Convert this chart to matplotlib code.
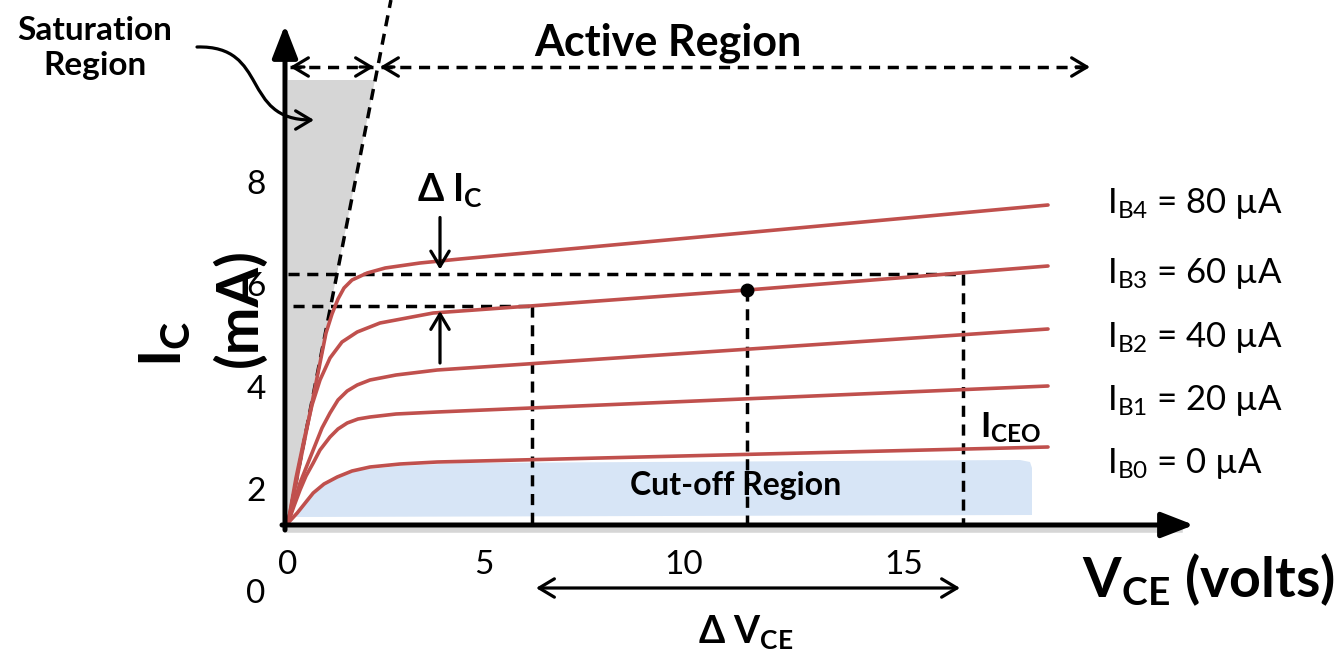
import matplotlib.pyplot as plt
from matplotlib.patches import FancyArrowPatch
from matplotlib.path import Path

# collector characteristics (VCE in volts, IC in mA)
ib4_v = [0, 0.25, 0.5, 0.75, 0.95, 1.1, 1.25, 1.4, 1.6, 1.98, 2.43, 3.3, 4.3, 19.0]
ib4_i = [1.34, 2.34, 3.34, 4.34, 5.14, 5.52, 5.82, 6.04, 6.2, 6.34, 6.44, 6.54, 6.62, 7.70]
ib3_v = [0, 0.2, 0.4, 0.6, 0.8, 1.05, 1.35, 1.73, 2.3, 3.63, 6.05, 11.48, 19.0]
ib3_i = [1.34, 2.24, 3.0, 3.7, 4.2, 4.64, 4.96, 5.16, 5.34, 5.54, 5.68, 6.0, 6.48]
ib2_v = [0, 0.3, 0.63, 0.85, 1.05, 1.25, 1.48, 1.73, 2.05, 2.7, 3.73, 19.0]
ib2_i = [1.34, 2.14, 2.8, 3.24, 3.54, 3.8, 3.98, 4.1, 4.2, 4.3, 4.4, 5.22]
ib1_v = [0, 0.15, 0.3, 0.45, 0.63, 0.8, 1.05, 1.25, 1.48, 1.75, 2.05, 2.7, 3.73, 19.0]
ib1_i = [1.34, 1.68, 2.0, 2.28, 2.54, 2.8, 3.06, 3.22, 3.34, 3.42, 3.46, 3.52, 3.56, 4.08]
ib0_v = [0, 0.23, 0.45, 0.63, 0.9, 1.23, 1.6, 2.05, 2.8, 3.73, 19.0]
ib0_i = [1.34, 1.54, 1.76, 1.94, 2.12, 2.26, 2.38, 2.46, 2.52, 2.56, 2.86]
curves = [(ib4_v, ib4_i), (ib3_v, ib3_i), (ib2_v, ib2_i), (ib1_v, ib1_i), (ib0_v, ib0_i)]

ib_names = ["B4", "B3", "B2", "B1", "B0"]
ib_values = ["80", "60", "40", "20", "0"]
ib_label_i = [7.54, 6.14, 4.86, 3.6, 2.34]

# cut-off region outline
cutoff_v = [0.18, 0.43, 0.75, 1.18, 1.8, 2.8, 4.3, 18.3, 18.55, 18.6, 18.6]
cutoff_i = [1.46, 1.8, 2.06, 2.26, 2.4, 2.48, 2.54, 2.6, 2.56, 2.44, 1.5]

# operating point and delta construction
q_v, q_i = 11.48, 6.0
ic_hi, ic_lo = 6.33, 5.69
v_lo, v_hi = 6.1, 16.88
axis_i = 1.3

xtick_pos = [0, 4.9, 9.9, 15.4]
xtick_labels = ["0", "5", "10", "15"]
ytick_pos = [8.1, 6.06, 4.0, 1.96, -0.08]
ytick_labels = ["8", "6", "4", "2", "0"]

plt.rcParams['font.family'] = ['Lato', 'DejaVu Sans']
plt.rcParams['mathtext.fontset'] = 'custom'
plt.rcParams['mathtext.rm'] = 'Lato'
plt.rcParams['mathtext.bf'] = 'Lato:bold'

red = '#c0504d'
dash = dict(color='black', lw=2.5, linestyle=(0, (3.2, 2.2)))

fig = plt.figure(figsize=(13.42, 6.58), dpi=100)
ax = fig.add_axes([0, 0, 1, 1])
ax.set_xlim(-7.2, 26.35)
ax.set_ylim(-1.36, 11.8)
ax.axis('off')

# saturation region
sat_slope = 0.246  # volts per mA along the saturation boundary
ax.fill([0, 0, sat_slope * (10.2 - 1.34)], [1.34, 10.2, 10.2], color='#d6d6d6', lw=0)
ax.plot([0, sat_slope * (11.8 - 1.34)], [1.34, 11.8], **dash)

# cut-off region
ax.fill(cutoff_v, cutoff_i, color='#d7e5f6', lw=0)

# delta construction lines
ax.plot([0, v_hi], [ic_hi, ic_hi], **dash)
ax.plot([0.12, v_lo], [ic_lo, ic_lo], **dash)
ax.plot([v_lo, v_lo], [ic_lo, axis_i], **dash)
ax.plot([q_v, q_v], [q_i, axis_i], **dash)
ax.plot([v_hi, v_hi], [ic_hi, axis_i], **dash)

for v, i in curves:
    ax.plot(v, i, color=red, lw=2.6, solid_capstyle='round', solid_joinstyle='round')
ax.plot([q_v], [q_i], 'o', color='black', ms=9)

# axes with arrow heads
ax.plot([-0.03, 22.3], [axis_i - 0.09, axis_i - 0.09], color='#bbbbbb', lw=4, alpha=0.6)
ax.annotate('', xy=(22.65, axis_i), xytext=(-0.15, axis_i),
            arrowprops=dict(arrowstyle='-|>,head_length=0.9,head_width=0.35', lw=3.6,
                            color='black', shrinkA=0, shrinkB=0, mutation_scale=22))
ax.annotate('', xy=(-0.075, 11.3), xytext=(-0.075, axis_i - 0.1),
            arrowprops=dict(arrowstyle='-|>,head_length=0.9,head_width=0.35', lw=3.6,
                            color='black', shrinkA=0, shrinkB=0, mutation_scale=22))

# active / saturation dashed arrows
act_i = 10.46
ax.plot([0.05, 2.12], [act_i, act_i], **dash)
ax.plot([2.32, 20.0], [act_i, act_i], **dash)
head = dict(arrowstyle='->,head_length=0.5,head_width=0.3', lw=2.3, color='black',
            shrinkA=0, shrinkB=0, mutation_scale=22)
for tip, tail in [(0.05, 0.4), (2.15, 1.8), (2.3, 2.65), (20.05, 19.7)]:
    ax.annotate('', xy=(tip, act_i), xytext=(tail, act_i), arrowprops=head)

# delta IC arrows
solid = dict(arrowstyle='->,head_length=0.5,head_width=0.3', lw=2.3, color='black',
             shrinkA=0, shrinkB=0, mutation_scale=22)
ax.annotate('', xy=(3.8, 6.41), xytext=(3.8, 7.45), arrowprops=solid)
ax.annotate('', xy=(3.8, 5.58), xytext=(3.8, 4.54), arrowprops=solid)

# delta VCE arrow
ax.annotate('', xy=(6.2, 0.04), xytext=(16.8, 0.04),
            arrowprops=dict(solid, arrowstyle='<->,head_length=0.5,head_width=0.3'))

# curved pointer from the saturation label
verts = [(-2.275, 10.86), (-0.45, 10.9), (-1.2, 9.4), (0.65, 9.4)]
codes = [Path.MOVETO, Path.CURVE4, Path.CURVE4, Path.CURVE4]
ax.add_patch(FancyArrowPatch(path=Path(verts, codes), arrowstyle='->,head_length=0.5,head_width=0.3',
                             lw=2.3, color='black', mutation_scale=22))

# tick labels
for p, t in zip(xtick_pos, xtick_labels):
    ax.text(p, 0.5, t, ha='center', va='center', fontsize=24)
for p, t in zip(ytick_pos, ytick_labels):
    ax.text(-0.8, p, t, ha='center', va='center', fontsize=24)

# curve labels
for name, val, li in zip(ib_names, ib_values, ib_label_i):
    ax.text(20.48, li, r'$\mathregular{I_{%s}}$ = %s µA' % (name, val), ha='left', va='baseline', fontsize=25)

bold = dict(fontweight='bold')
ax.text(-4.83, 10.84, 'Saturation\nRegion', ha='center', va='center', fontsize=24, linespacing=1.25, **bold)
ax.text(9.5, 10.94, 'Active Region', ha='center', va='center', fontsize=31, **bold)
ax.text(4.05, 8.0, r'Δ $\mathregular{I_C}$', ha='center', va='center', fontsize=27, **bold)
ax.text(17.3, 3.04, r'$\mathregular{I_{CEO}}$', ha='left', va='baseline', fontsize=25, **bold)
ax.text(11.18, 2.1, 'Cut-off Region', ha='center', va='center', fontsize=23, **bold)
ax.text(11.43, -1.06, r'Δ $\mathregular{V_{CE}}$', ha='center', va='baseline', fontsize=27, **bold)
ax.text(19.85, -0.14, r'$\mathregular{V_{CE}}$ (volts)', ha='left', va='baseline', fontsize=40, **bold)
ax.text(-3.08, 4.46, r'$\mathregular{I_C}$', ha='center', va='bottom', rotation=90, fontsize=42, **bold)
ax.text(-1.2, 4.46, '(mA)', ha='center', va='bottom', rotation=90, fontsize=41, **bold)

fig.savefig('out.png', dpi=100)
